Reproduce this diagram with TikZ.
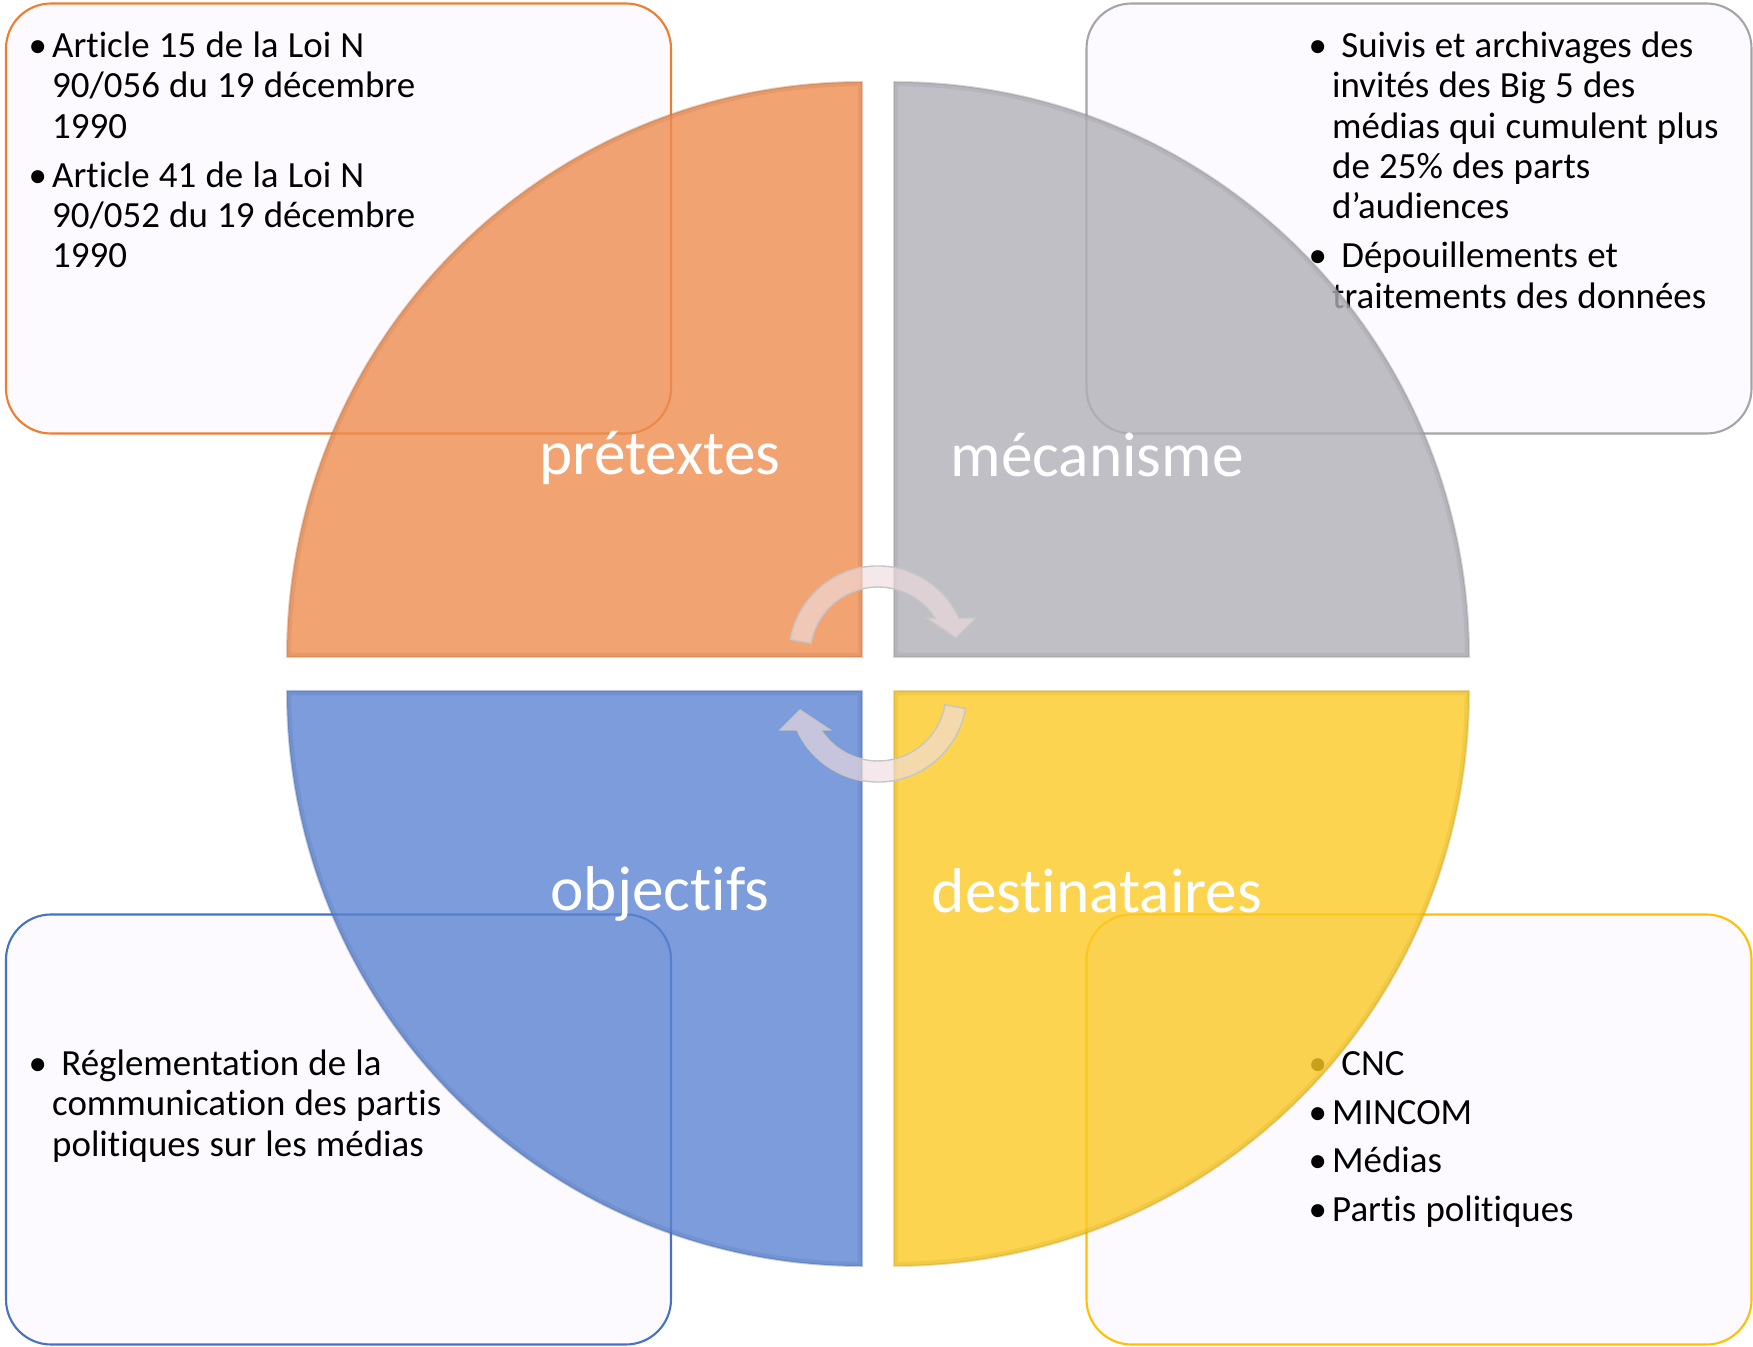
\documentclass[tikz,border=0pt]{standalone}
\usepackage{fontspec}
\setmainfont{Carlito}[Ligatures=NoCommon]

\definecolor{boxfill}{RGB}{252,250,254}
\definecolor{lineorange}{RGB}{237,125,49}
\definecolor{linegrey}{RGB}{165,165,165}
\definecolor{lineblue}{RGB}{68,114,196}
\definecolor{linegold}{RGB}{255,192,0}
\definecolor{qorange}{RGB}{238,140,79}
\definecolor{qgrey}{RGB}{176,175,183}
\definecolor{qblue}{RGB}{91,131,210}
\definecolor{qyellow}{RGB}{251,201,36}
\definecolor{arrowpink}{RGB}{240,220,222}

\newcommand\puce[1]{\par\noindent\hbox to 2.35mm{\strut\textbullet\hss}\parbox[t]{58mm}{\raggedright\spaceskip=0.25em\relax\strut #1\strut}}

\tikzset{
  infobox/.style={draw=#1, fill=boxfill, line width=0.6pt, rounded corners=4.5mm,
    minimum width=66.5mm, minimum height=43mm, inner sep=0pt},
  itemtext/.style={anchor=north west, inner sep=0pt, text width=62mm, align=left,
    font={\fontsize{10.5pt}{11.45pt}\selectfont\setlength{\parskip}{#1}}},
  itemtext/.default=1.6pt,
  quartershape/.style={fill=#1, fill opacity=0.8, draw=#1!75!black, draw opacity=0.3, line width=0.6pt},
  quarterrim/.style={draw=#1!80!black, draw opacity=0.18, line width=2.4pt},
  quartertitle/.style={text=white, font=\fontsize{18pt}{20pt}\selectfont, inner sep=0pt},
  cyclearrow/.style={fill=arrowpink, fill opacity=0.65, draw=gray!45, line width=0.4pt}
}

\begin{document}
\begin{tikzpicture}[x=0.1mm, y=0.1mm]
    \useasboundingbox (0,0) rectangle (1753,1346);

    % boxes
    \node[infobox=lineorange] (pretextesbox) at (338.5,1127.5) {};
    \node[infobox=linegrey] (mecanismebox) at (1419,1127.5) {};
    \node[infobox=lineblue] (objectifsbox) at (338.5,216.5) {};
    \node[infobox=linegold] (destinatairesbox) at (1419,216.5) {};

    \node[itemtext] (pretextestext) at (28,1335) {\puce{Article 15 de la Loi N\\90/056 du 19 décembre\\1990}
        \puce{Article 41 de la Loi N\\90/052 du 19 décembre\\1990}};
    \node[itemtext] (mecanismetext) at (1308,1335) {\puce{\ Suivis et archivages des\\invités des Big 5 des\\médias qui cumulent plus\\de 25\% des parts\\d’audiences}
        \puce{\ Dépouillements et\\traitements des données}};
    \node[itemtext] (objectifstext) at (28,317) {\puce{\ Réglementation de la\\communication des partis\\politiques sur les médias}};
    \node[itemtext=2.4pt] (destinatairestext) at (1308,320) {\puce{\ CNC}
        \puce{MINCOM}
        \puce{Médias}
        \puce{Partis politiques}};

    % quarters
    \foreach \cx/\cy/\a/\col in {862/689/90/qorange, 894/689/0/qgrey, 862/655/180/qblue, 894/655/270/qyellow} {
        \filldraw[quartershape=\col] (\cx,\cy) -- ++(\a:575) arc[start angle=\a, delta angle=90, radius=575] -- cycle;
        \begin{scope}
            \clip (\cx,\cy) -- ++(\a:575) arc[start angle=\a, delta angle=90, radius=575] -- cycle;
            \draw[quarterrim=\col] (\cx,\cy) -- ++(\a:575) arc[start angle=\a, delta angle=90, radius=575] -- cycle;
        \end{scope}
    }

    \node[quartertitle] (pretextes) at (660,888) {prétextes};
    \node[quartertitle] (mecanisme) at (1097,891) {mécanisme};
    \node[quartertitle] (objectifs) at (660,452) {objectifs};
    \node[quartertitle] (destinataires) at (1097,455) {destinataires};

    % arrows in the middle
    \begin{scope}[shift={(878,672)}]
        \foreach \r in {0,180}
            \filldraw[cyclearrow, rotate=\r] (-87.6,34.5) arc[start angle=170, end angle=24.5, radius=89]
                -- (98,56) -- (78,36) -- (48,56) -- (57,56)
                arc[start angle=33, end angle=170, radius=68] -- cycle;
    \end{scope}
\end{tikzpicture}
\end{document}
